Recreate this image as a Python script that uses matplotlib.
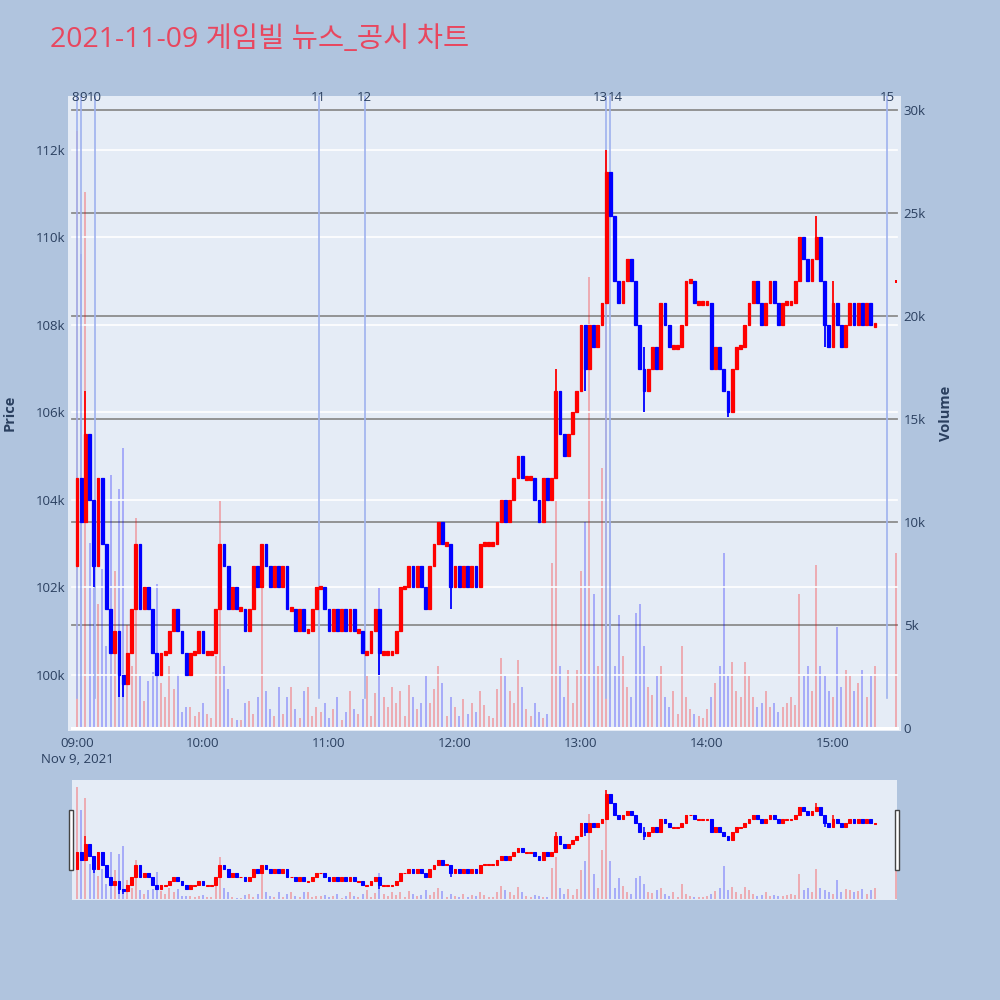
import matplotlib
matplotlib.use("Agg")
import matplotlib.pyplot as plt
from matplotlib.patches import Rectangle
from matplotlib.transforms import blended_transform_factory

plt.rcParams['font.family'] = ['Open Sans', 'Noto Sans CJK KR', 'DejaVu Sans']

# ---------------- data (2-minute candles from 09:00) ----------------
step_minutes = 2
first_open = 102500
closes = [
    104500, 103500, 105500, 104000, 102500, 104500, 103000, 101500, 100500, 101000,
    100000, 99800, 100500, 101500, 103000, 101500, 102000, 101500, 100500, 100000,
    100500, 100500, 101000, 101500, 101000, 100500, 100000, 100500, 100500, 101000,
    100500, 100500, 100500, 101500, 103000, 102500, 101500, 102000, 101500, 101500,
    101000, 101500, 102500, 102000, 103000, 102500, 102000, 102500, 102000, 102500,
    101500, 101500, 101000, 101500, 101000, 101000, 101500, 102000, 102000, 101500,
    101000, 101500, 101000, 101500, 101000, 101500, 101000, 101000, 100500, 100500,
    101000, 101500, 100500, 100500, 100500, 100500, 101000, 102000, 102000, 102500,
    102000, 102500, 102000, 101500, 102500, 103000, 103500, 103000, 103000, 102000,
    102500, 102000, 102500, 102000, 102500, 102000, 103000, 103000, 103000, 103000,
    103500, 104000, 103500, 104000, 104500, 105000, 104500, 104500, 104500, 104000,
    103500, 104500, 104000, 104500, 106500, 105500, 105000, 105500, 106000, 106500,
    108000, 107000, 108000, 107500, 108000, 108500, 111500, 110500, 109000, 108500,
    109000, 109500, 109000, 108000, 107000, 106500, 107000, 107500, 107000, 108500,
    108000, 107500, 107500, 107500, 108000, 109000, 109000, 108500, 108500, 108500,
    108500, 107000, 107500, 107000, 106500, 106000, 107000, 107500, 107500, 108000,
    108500, 109000, 108500, 108000, 108500, 109000, 108500, 108000, 108500, 108500,
    108500, 109000, 110000, 109500, 109000, 109500, 110000, 109000, 108000, 107500,
    108500, 108000, 107500, 108000, 108500, 108000, 108500, 108000, 108500, 108000,
    108000,
]
volumes = [
    29000, 23000, 26000, 9000, 8000, 6000, 7700, 4000, 12300, 7600,
    11600, 13600, 5000, 3000, 10200, 2500, 1300, 2300, 2700, 7000,
    2200, 1500, 3000, 1900, 2600, 800, 1000, 1000, 600, 800,
    1200, 700, 500, 3500, 11000, 3000, 1900, 500, 400, 400,
    1200, 1300, 700, 1500, 7200, 1800, 900, 600, 2000, 700,
    1500, 2000, 900, 500, 1800, 2000, 600, 1000, 800, 1200,
    500, 900, 1500, 400, 800, 1800, 900, 700, 1400, 2500,
    600, 1700, 6800, 1500, 1000, 2000, 1200, 1800, 600, 2100,
    1500, 900, 1200, 2500, 1200, 1900, 3000, 2200, 600, 1500,
    1000, 600, 1400, 700, 1200, 800, 1800, 1100, 600, 500,
    1900, 3400, 2500, 1800, 1200, 3300, 2000, 900, 600, 1200,
    800, 500, 700, 8000, 11000, 3000, 1500, 2800, 1200, 2800,
    7600, 10000, 21900, 6500, 3000, 12600, 28000, 10000, 3000, 5500,
    3500, 2000, 1500, 5600, 6000, 4000, 2000, 1600, 2500, 3000,
    1500, 1000, 1800, 700, 4000, 1500, 900, 700, 600, 500,
    900, 1500, 2200, 3000, 8500, 2500, 3200, 1800, 1500, 3200,
    2500, 1500, 1000, 1200, 1800, 1000, 1200, 800, 1000, 1200,
    1500, 1100, 6500, 2500, 3000, 1800, 7900, 3000, 2500, 1800,
    1500, 4900, 2000, 2800, 2500, 1800, 2200, 2800, 1500, 2500,
    3000,
]
wick_index = [2, 11, 72, 114, 126, 176, 180, 4, 10, 89, 121, 135, 155, 178]
wick_high = [106500, 100000, 101000, 107000, 112000, 110500, 109000,
             104000, 100500, 103000, 108000, 107500, 106500, 109000]
wick_low = [104000, 99500, 100000, 104500, 108500, 109500, 107500,
            102000, 99500, 101500, 106500, 106000, 105900, 107500]

auction_minute = 390
auction_price = 109000
auction_volume = 8500

news_labels = ['8', '9', '10', '11', '12', '13', '14', '15']
news_minutes = [0, 1.9, 8.4, 115, 137, 251.8, 253.8, 385.7]
news_align = ['right', 'left', 'center', 'center', 'center', 'right', 'left', 'center']

price_ticks = [100000, 102000, 104000, 106000, 108000, 110000, 112000]
price_ticklabels = ['100k', '102k', '104k', '106k', '108k', '110k', '112k']
volume_ticks = [0, 5000, 10000, 15000, 20000, 25000, 30000]
volume_ticklabels = ['0', '5k', '10k', '15k', '20k', '25k', '30k']
time_ticks = [0, 60, 120, 180, 240, 300, 360]
time_ticklabels = ['09:00\nNov 9, 2021', '10:00', '11:00', '12:00', '13:00', '14:00', '15:00']

title = '2021-11-09 게임빌 뉴스_공시 차트'

# ---------------- derived candle table ----------------
xs = [i * step_minutes for i in range(len(closes))]
cl = list(closes)
op = [first_open] + closes[:-1]
hi = [max(o, c) for o, c in zip(op, cl)]
lo = [min(o, c) for o, c in zip(op, cl)]
for k, h, l in zip(wick_index, wick_high, wick_low):
    hi[k] = max(hi[k], h)
    lo[k] = min(lo[k], l)

RED = '#FF0000'
BLUE = '#0000FF'
TXT = '#2a3f5f'
BG = '#E5ECF6'
FIG_BG = '#B0C4DE'


def up(o, c):
    return c >= o


def draw_volume(axv, width):
    for x, o, c, v in zip(xs, op, cl, volumes):
        col = RED if up(o, c) else BLUE
        axv.bar(x, v, width=width, color=col, alpha=0.27, linewidth=0, zorder=2)
    axv.bar(auction_minute, auction_volume, width=width, color=RED, alpha=0.27,
            linewidth=0, zorder=2)


def draw_candles(axp, width, lw):
    for x, o, c, h, l in zip(xs, op, cl, hi, lo):
        col = RED if up(o, c) else BLUE
        axp.vlines(x, l, h, color=col, linewidth=lw, zorder=4)
        body = max(abs(c - o), 90)
        axp.bar(x, body, bottom=min(o, c) if abs(c - o) > 0 else c - 45,
                width=width, color=col, edgecolor=col, linewidth=lw * 0.7, zorder=5)
    axp.bar(auction_minute, 60, bottom=auction_price - 30, width=0.5,
            color=RED, linewidth=0, zorder=5)


fig = plt.figure(figsize=(10, 10), dpi=100)
fig.patch.set_facecolor(FIG_BG)


def xm(px):
    # 09:00 sits at x = 77 px, 2.1 px per minute
    return (px - 77) / 2.1


P_LO, P_HI = 98720, 113234
V_LO, V_HI = -146, 30680

# ---------------- main chart ----------------
ax2 = fig.add_axes([0.068, 0.269, 0.833, 0.635])   # volume (bottom layer)
ax = ax2.twinx()
ax.set_position([0.068, 0.269, 0.833, 0.635])
ax2.set_zorder(1)
ax.set_zorder(2)
ax.patch.set_visible(False)
ax2.set_facecolor(BG)

for a in (ax, ax2):
    a.set_xlim(xm(68), xm(901))
    for s in a.spines.values():
        s.set_visible(False)

ax2.set_ylim(V_LO, V_HI)
ax.set_ylim(P_LO, P_HI)

gx0, gx1 = 4 / 833, 829 / 833
for v in volume_ticks[1:]:
    ax2.axhline(v, xmin=gx0, xmax=gx1, color='#8c8c8c', lw=1.3, zorder=1)
ax2.axhline(0, xmin=gx0, xmax=gx1, color='white', lw=2.2, zorder=3)
for p in price_ticks:
    ax.axhline(p, xmin=gx0, xmax=gx1, color='white', lw=1.2, zorder=1)

draw_volume(ax2, 1.0)
draw_candles(ax, 1.4, 1.3)

# news / disclosure markers
tr = blended_transform_factory(ax.transData, ax.transAxes)
for lab, m, ha in zip(news_labels, news_minutes, news_align):
    ax.plot([m, m], [0.052, 1.0], transform=tr, color='#9fb2ee', lw=1.2, zorder=3)
    dx = {'right': 0.9, 'left': -0.9, 'center': 0}[ha]
    ax.text(m + dx, 0.9915, lab, transform=tr, ha=ha, va='baseline',
            fontsize=9.5, color=TXT, zorder=6)

ax.yaxis.tick_left()
ax.yaxis.set_label_position('left')
ax.set_yticks(price_ticks)
ax.set_yticklabels(price_ticklabels)
ax2.yaxis.tick_right()
ax2.yaxis.set_label_position('right')
ax2.set_yticks(volume_ticks)
ax2.set_yticklabels(volume_ticklabels)
ax.tick_params(axis='y', length=0, pad=2, labelsize=9.5, labelcolor=TXT)
ax2.tick_params(axis='y', length=0, pad=2, labelsize=9.5, labelcolor=TXT)
ax.set_xticks([])
ax2.set_xticks(time_ticks)
ax2.set_xticklabels(time_ticklabels, linespacing=1.35)
ax2.tick_params(axis='x', length=0, pad=4, labelsize=9.5, labelcolor=TXT)

fig.text(0.010, 0.587, 'Price', rotation=90, ha='center', va='center',
         fontsize=10.5, fontweight='bold', color=TXT)
fig.text(0.946, 0.587, 'Volume', rotation=90, ha='center', va='center',
         fontsize=10.5, fontweight='bold', color=TXT)

fig.text(0.050, 0.960, title, ha='left', va='center', fontsize=20.5,
         color='#E8475F', family=['Open Sans', 'Noto Sans CJK KR', 'DejaVu Sans'])

# ---------------- range slider ----------------
s2 = fig.add_axes([0.072, 0.100, 0.825, 0.120])
s1 = s2.twinx()
s1.set_position([0.072, 0.100, 0.825, 0.120])
s2.set_zorder(1)
s1.set_zorder(2)
s1.patch.set_visible(False)
s2.set_facecolor(BG)
for a in (s1, s2):
    a.set_xlim(xm(72), xm(897))
    a.set_xticks([])
    a.set_yticks([])
    for s in a.spines.values():
        s.set_visible(False)
s2.set_ylim(V_LO, V_HI)
s1.set_ylim(P_LO, P_HI)
draw_volume(s2, 1.0)
draw_candles(s1, 1.4, 1.1)

for hx in (0.069, 0.895):
    fig.patches.append(Rectangle((hx, 0.130), 0.004, 0.060, transform=fig.transFigure,
                                 facecolor='white', edgecolor='#444444', lw=1.0, zorder=10))

fig.savefig('out.png', dpi=100, facecolor=FIG_BG)
